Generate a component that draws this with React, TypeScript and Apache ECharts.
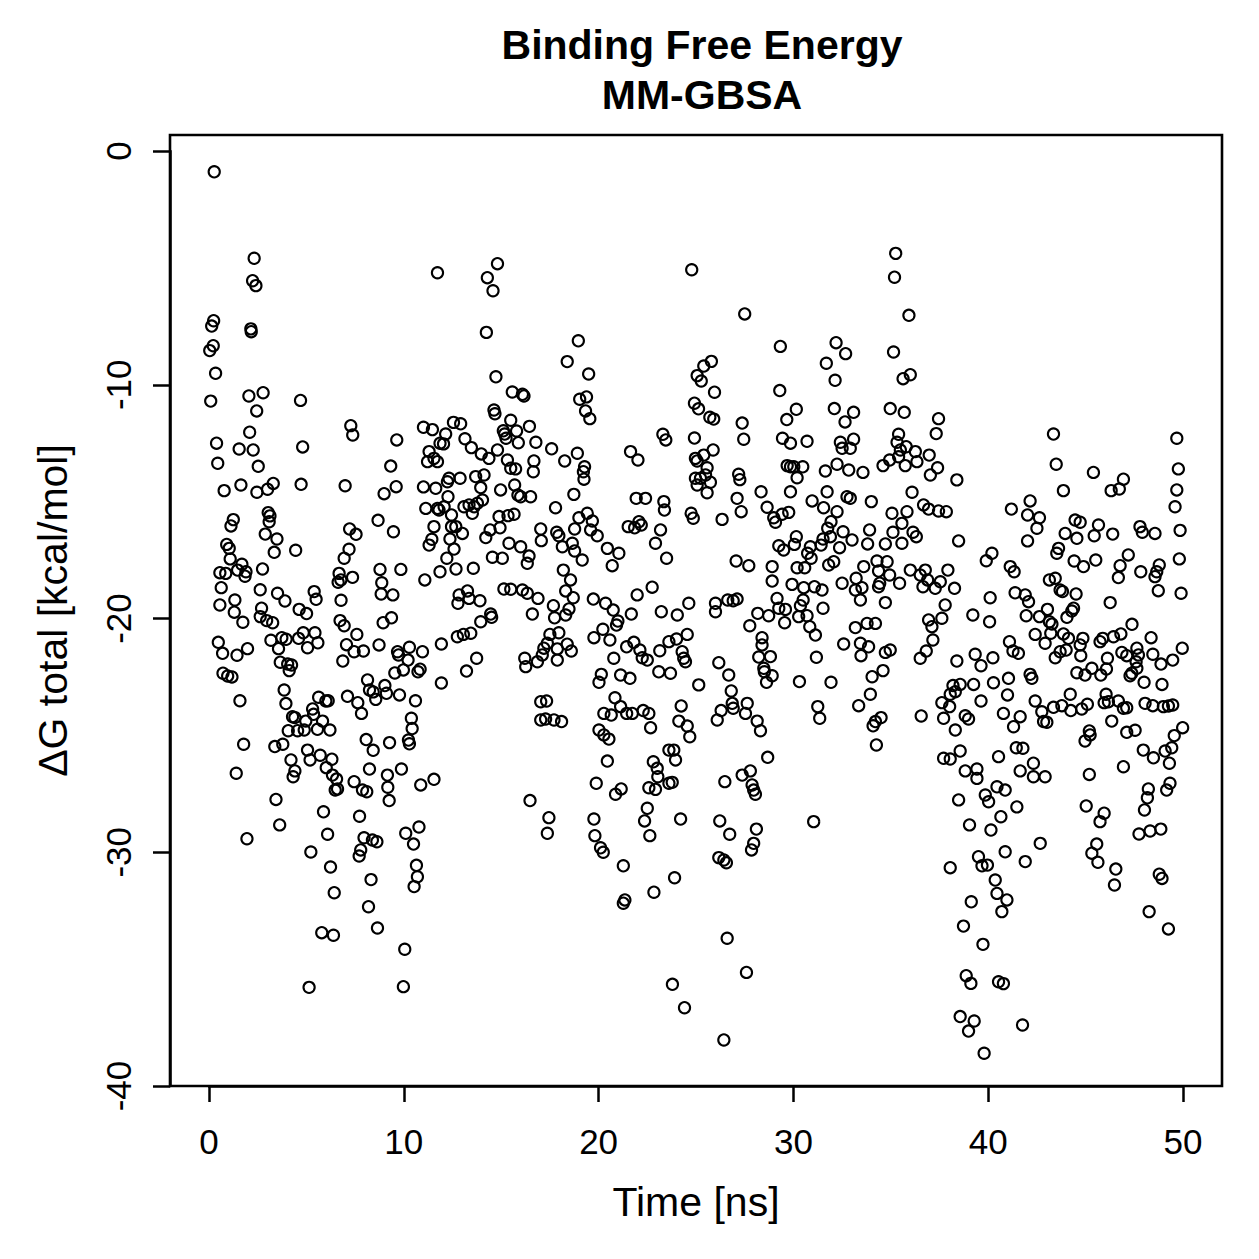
import React, { useEffect, useRef } from "react";
import * as echarts from "echarts";

// ---- Data: [time (ns), ΔG total (kcal/mol)] ----
const frames0to10: [number, number][] = [
  [0.27,-0.89],[2.32,-4.59],[2.24,-5.55],[2.41,-5.76],[0.24,-7.26],[0.14,-7.49],[2.15,-7.61],[2.17,-7.73],[0.22,-8.33],[0.04,-8.54],
  [0.34,-9.51],[0.09,-10.70],[2.05,-10.48],[2.78,-10.34],[2.45,-11.12],[4.70,-10.67],[2.09,-12.03],[0.39,-12.50],[1.55,-12.75],[2.27,-12.79],
  [4.81,-12.66],[7.28,-11.75],[7.38,-12.15],[9.64,-12.36],
  [0.45,-13.36],[2.53,-13.49],[0.78,-14.53],[1.64,-14.29],[2.46,-14.60],[3.01,-14.47],[3.30,-14.22],[4.73,-14.26],[6.99,-14.32],[9.33,-13.48],
  [8.99,-14.66],[9.61,-14.36],[8.68,-15.80],[9.47,-16.29],[7.22,-16.17],[7.55,-16.40],[7.19,-17.04],[6.94,-17.42],[1.13,-16.04],[1.25,-15.77],
  [3.04,-15.47],[3.13,-15.61],[3.09,-15.86],[2.89,-16.39],[3.49,-16.60],[3.35,-17.17],[4.45,-17.08],[0.91,-16.83],[1.04,-17.00],[1.09,-17.45],
  [0.56,-18.04],[0.86,-18.07],[1.47,-17.93],[1.69,-17.68],[1.90,-18.00],[1.85,-18.19],[2.75,-17.88],[0.63,-18.68],[0.56,-19.42],[1.33,-19.21],
  [1.30,-19.73],[1.74,-20.16],[2.63,-18.77],[2.70,-19.56],[2.63,-19.92],[2.96,-20.09],[3.27,-20.18],[3.52,-18.92],[3.90,-19.25],[4.63,-19.61],
  [5.01,-19.79],[5.40,-18.85],[5.50,-19.18],[6.78,-19.22],[6.68,-18.07],[6.77,-18.35],[6.63,-18.45],[7.37,-18.24],[8.78,-17.90],[9.85,-17.90],
  [8.87,-18.47],[8.84,-18.95],[9.44,-18.99],[6.73,-20.09],[6.94,-20.31],[7.59,-20.68],[7.06,-21.12],[7.45,-21.42],[7.93,-21.39],[6.87,-21.82],
  [8.94,-20.18],[9.37,-19.97],[8.73,-21.13],[9.68,-21.42],[9.73,-21.56],[9.54,-22.33],[9.98,-22.20],[0.48,-21.02],[0.70,-21.49],[1.44,-21.57],
  [1.98,-21.29],[3.18,-20.93],[3.74,-20.82],[3.96,-20.89],[3.57,-21.29],[4.60,-20.85],[4.84,-20.61],[5.44,-20.61],[5.59,-21.04],[5.06,-21.25],
  [3.66,-21.87],[4.04,-21.95],[4.24,-21.99],[4.12,-22.23],[0.72,-22.34],[0.96,-22.46],[1.18,-22.50],[1.59,-23.52],[3.86,-23.06],[3.95,-23.64],
  [4.29,-24.20],[4.41,-24.24],[4.07,-24.80],[4.55,-24.80],[4.97,-24.39],[4.89,-24.77],[5.32,-23.87],[5.37,-24.10],[5.63,-23.37],[6.00,-23.53],
  [6.12,-23.52],[5.83,-24.39],[5.57,-24.74],[6.21,-24.77],[7.11,-23.33],[7.64,-23.60],[7.83,-24.06],[8.14,-22.63],[8.24,-23.06],[8.43,-23.14],
  [8.56,-23.46],[9.03,-22.87],[9.11,-23.20],[9.78,-23.27],[1.78,-25.38],[3.38,-25.48],[3.79,-25.38],[4.21,-26.05],[5.06,-25.63],[5.19,-26.05],
  [5.71,-25.85],[6.31,-26.02],[6.02,-26.38],[8.07,-25.18],[8.43,-25.64],[9.27,-25.31],[8.24,-26.44],[9.88,-26.44],[1.40,-26.62],[4.41,-26.52],
  [9.16,-26.70],[4.32,-26.77],[6.34,-26.70],[6.55,-26.87],[6.48,-27.34],[6.60,-27.29],[7.45,-26.98],[7.88,-27.34],[8.10,-27.41],[9.18,-27.22],
  [9.25,-27.79],[3.44,-27.74],[5.88,-28.27],[7.73,-28.46],[3.63,-28.83],[1.95,-29.42],[6.09,-29.23],[7.96,-29.38],[8.39,-29.48],[8.62,-29.55],
  [7.79,-29.90],[7.71,-30.16],[5.23,-29.99],[6.24,-30.63],[6.43,-31.73],[8.32,-31.17],[8.19,-32.33],[8.65,-33.24],[5.79,-33.44],[6.39,-33.55],
  [5.14,-35.78],[9.98,-35.75],
];

const frames10to20: [number, number][] = [
  [11.73,-5.21],[11.01,-11.82],[11.47,-11.92],[11.30,-12.86],[11.86,-12.50],[14.81,-4.82],[14.29,-5.42],[14.58,-5.98],[14.24,-7.76],[18.96,-8.12],
  [18.39,-9.01],[19.49,-9.54],[14.73,-9.66],[15.57,-10.31],[16.09,-10.41],[16.17,-10.48],[19.03,-10.62],[19.38,-10.52],[19.33,-11.12],[19.55,-11.45],
  [14.63,-11.08],[14.68,-11.24],[15.49,-11.52],[12.55,-11.61],[12.92,-11.67],[12.15,-12.11],[12.04,-12.53],[13.14,-12.31],[13.47,-12.69],[15.11,-11.97],
  [15.18,-12.11],[15.25,-12.29],[15.79,-11.98],[16.45,-11.78],[15.88,-12.48],[16.78,-12.46],[17.59,-12.74],[14.81,-12.79],[13.98,-12.96],[18.91,-12.93],
  [11.01,-14.37],[11.64,-14.43],[11.22,-13.29],[11.55,-13.15],[11.13,-15.29],[11.73,-15.29],[11.44,-16.61],[11.55,-16.07],[11.30,-16.86],[11.08,-18.35],
  [11.86,-18.00],[10.29,-21.23],[10.22,-21.78],[10.96,-21.42],[10.73,-22.28],[10.84,-22.17],[11.93,-21.09],[11.93,-22.76],[10.60,-23.52],[10.39,-24.27],
  [10.43,-24.71],[10.24,-25.20],[10.29,-25.36],[10.87,-27.12],[11.55,-26.88],[10.10,-29.19],[10.78,-28.92],[10.50,-29.65],[10.65,-30.56],[10.70,-31.05],
  [10.53,-31.47],[10.05,-34.15],
  [11.73,-13.29],[14.37,-13.15],[15.32,-13.22],[15.49,-13.57],[15.74,-13.60],[16.68,-13.26],[16.65,-13.72],[18.26,-13.26],[19.28,-13.51],[19.22,-13.72],
  [19.25,-14.04],[18.73,-14.69],[17.79,-15.26],[12.24,-14.15],[12.32,-14.00],[12.89,-14.00],[12.27,-14.79],[11.81,-15.36],[12.07,-15.22],[12.45,-15.57],
  [12.45,-16.07],[12.67,-16.07],[13.01,-16.36],[12.37,-16.60],[12.58,-17.03],[12.21,-17.42],[12.68,-17.88],[13.57,-17.85],[13.09,-15.22],[13.35,-15.14],
  [13.61,-15.22],[13.52,-15.50],[13.78,-15.07],[14.04,-14.93],[13.69,-13.93],[14.12,-13.86],[13.95,-14.40],[14.97,-14.50],[15.69,-14.29],[15.86,-14.72],
  [16.00,-14.79],[16.51,-14.79],[14.89,-15.64],[15.35,-15.60],[15.66,-15.54],[14.94,-16.12],[14.21,-16.54],[14.43,-16.21],[15.40,-16.78],[16.00,-16.93],
  [16.43,-17.33],[16.34,-17.64],[14.55,-17.38],[15.06,-17.42],[17.03,-16.17],[17.06,-16.67],[17.85,-16.31],[17.96,-16.46],[18.14,-16.93],[18.77,-16.17],
  [18.99,-15.69],[19.42,-15.50],[19.68,-15.83],[19.59,-16.21],[19.93,-16.46],[18.65,-16.78],[18.77,-17.11],[19.16,-17.50],[18.19,-17.93],[18.56,-18.35],
  [18.31,-18.82],[18.70,-19.11],[17.68,-19.45],[17.74,-19.97],[18.31,-19.85],[18.48,-19.59],[15.14,-18.74],[15.49,-18.75],[16.09,-18.78],[16.34,-18.92],
  [16.89,-19.14],[16.60,-19.81],[12.84,-18.99],[13.27,-18.82],[13.35,-19.14],[12.78,-19.35],[13.91,-19.24],[14.46,-19.81],[14.51,-19.95],[13.95,-20.14],
  [13.44,-20.63],[13.06,-20.68],[12.75,-20.78],[13.74,-21.70],[13.22,-22.25],[19.73,-19.17],[19.76,-20.82],[17.50,-20.68],[17.96,-20.61],[17.37,-21.06],
  [17.19,-21.27],[17.11,-21.56],[17.88,-21.30],[18.39,-21.10],[18.60,-21.39],[17.88,-21.78],[16.21,-21.70],[16.26,-22.06],[16.86,-21.85],[17.03,-23.56],
  [17.33,-23.53],[17.03,-24.34],[17.28,-24.30],[17.71,-24.34],[18.10,-24.41],[16.48,-27.79],[17.45,-28.52],[17.37,-29.19],[19.88,-27.05],[19.76,-28.58],
  [19.81,-29.29],
];

const frames20to30: [number, number][] = [
  [21.64,-12.86],[24.78,-5.08],[25.40,-9.20],[25.79,-9.00],[25.06,-9.61],[25.27,-9.84],[24.92,-10.79],[25.13,-11.03],[24.92,-12.28],[23.30,-12.12],
  [23.45,-12.36],[27.50,-6.97],[29.33,-8.36],[25.95,-10.32],[29.30,-10.25],[25.71,-11.39],[25.91,-11.47],[27.37,-11.64],[27.45,-12.33],[29.44,-12.29],
  [29.85,-12.50],[25.40,-13.01],[25.88,-12.79],[29.66,-11.49],
  [22.02,-13.22],[24.97,-13.15],[24.97,-14.00],[25.06,-14.29],[20.45,-17.00],[21.04,-17.21],[20.70,-17.74],[21.93,-14.86],[22.41,-14.86],[23.35,-15.00],
  [23.38,-15.36],[21.52,-16.07],[21.85,-16.12],[22.07,-15.86],[22.19,-16.00],[23.18,-16.21],[22.92,-16.78],[23.49,-17.42],[24.75,-15.50],[24.86,-15.71],
  [20.36,-19.35],[20.75,-19.64],[20.99,-20.11],[20.92,-20.28],[20.22,-20.46],[20.58,-20.92],[21.68,-19.81],[21.98,-18.99],[22.75,-18.66],[23.22,-19.71],
  [24.04,-19.85],[24.63,-19.35],[20.78,-21.70],[21.44,-21.21],[21.81,-21.02],[22.12,-21.35],[22.24,-21.68],[22.50,-21.78],[23.14,-21.38],[23.61,-20.99],
  [24.00,-20.88],[24.29,-21.42],[24.37,-21.70],[24.46,-21.85],[24.55,-20.68],[25.14,-22.84],[23.09,-22.28],[23.69,-22.34],[20.14,-22.39],[20.02,-22.73],
  [21.13,-22.42],[21.61,-22.56],[20.84,-23.39],[21.13,-23.77],[20.27,-24.06],[20.65,-24.13],[21.44,-24.06],[21.73,-24.06],[22.29,-23.94],[22.58,-24.06],
  [22.67,-24.67],[24.24,-23.74],[24.12,-24.39],[24.55,-24.60],[24.68,-25.06],[20.02,-24.77],[20.27,-24.98],[20.53,-25.16],[23.61,-25.63],[23.86,-25.63],
  [23.95,-26.05],[22.81,-26.13],[23.01,-26.41],[20.45,-26.10],
  [20.87,-27.52],[21.16,-27.29],[20.10,-29.81],[20.24,-30.00],[21.27,-30.58],[21.35,-32.04],[21.27,-32.18],[22.50,-28.12],[22.36,-28.66],[22.63,-29.29],
  [22.58,-27.24],[22.92,-27.31],[23.04,-26.77],[23.61,-27.05],[23.78,-27.01],[24.21,-28.58],[23.90,-31.09],[22.84,-31.71],[23.79,-35.65],[24.41,-36.65],
  [26.48,-26.98],[27.37,-26.70],[27.79,-26.52],[27.88,-27.12],[27.96,-27.34],[28.05,-27.52],[26.22,-28.66],[26.73,-29.23],[28.10,-29.01],[27.96,-29.62],
  [27.85,-29.90],[26.17,-30.23],[26.43,-30.33],[26.56,-30.45],[26.60,-33.68],[27.59,-35.14],[26.43,-38.03],
  [25.06,-13.26],[25.57,-13.55],[25.49,-13.86],[25.23,-14.00],[25.74,-14.17],[25.57,-14.62],[26.34,-15.76],[27.19,-13.83],[27.25,-14.06],[27.11,-14.86],
  [27.32,-15.43],[28.34,-14.58],[28.65,-15.24],[28.99,-15.69],[29.08,-15.88],[29.42,-15.54],[29.76,-15.46],[29.68,-13.46],[29.85,-13.51],[29.85,-14.58],
  [29.50,-17.07],[29.25,-16.89],[28.91,-17.78],[28.91,-18.40],[27.71,-17.74],[27.06,-17.54],[26.00,-19.35],[26.00,-19.71],[26.63,-19.21],[26.91,-19.24],
  [27.11,-19.17],[28.17,-19.78],[28.73,-19.88],[27.76,-20.31],[29.16,-19.14],[29.25,-19.56],[29.59,-19.61],[29.55,-20.18],[29.93,-18.54],[28.39,-20.82],
  [28.39,-21.13],[28.22,-21.65],[28.82,-21.63],[28.48,-22.13],[28.51,-22.28],[28.91,-22.45],[28.62,-22.73],[26.17,-21.89],[26.68,-22.42],[26.81,-23.10],
  [26.86,-23.63],[26.91,-23.84],[26.29,-23.94],[26.09,-24.34],[27.63,-23.63],[27.54,-24.06],[28.14,-24.39],[28.31,-24.80],[28.68,-25.94],
];

const frames30to40: [number, number][] = [
  [35.25,-4.38],[35.19,-5.40],[35.93,-7.03],[32.19,-8.20],[32.68,-8.67],[31.69,-9.08],[32.14,-9.81],[35.14,-8.60],[35.63,-9.74],[36.00,-9.57],
  [30.15,-11.05],[32.10,-11.02],[33.09,-11.18],[32.65,-11.59],[34.97,-11.02],[35.69,-11.18],[37.45,-11.45],[37.33,-12.09],[30.70,-12.42],[32.41,-12.46],
  [33.09,-12.33],[32.92,-12.72],[32.50,-12.72],[35.40,-12.12],[35.32,-12.46],[35.79,-12.65],[35.49,-12.79],[36.26,-12.86],[36.97,-13.01],
  [30.02,-13.51],[30.48,-13.51],[30.19,-13.98],[30.96,-14.97],[31.55,-15.26],[31.64,-13.69],[32.24,-13.40],[32.84,-13.65],[33.57,-13.75],[31.73,-14.58],
  [32.24,-15.43],[32.75,-14.79],[32.92,-14.86],[34.00,-15.00],[34.60,-13.46],[34.94,-13.22],[35.40,-13.08],[35.74,-13.46],[36.34,-13.29],[37.03,-13.86],
  [37.40,-13.55],[36.09,-14.60],[35.06,-15.50],[35.83,-15.43],[36.68,-15.14],[36.94,-15.32],[37.45,-15.40],[37.85,-15.43],[38.39,-14.07],[35.57,-15.93],
  [35.11,-16.31],[36.14,-16.31],[36.31,-16.50],[35.57,-16.78],[34.72,-16.81],[33.91,-16.21],[33.81,-16.81],[33.01,-16.64],[32.55,-16.29],[31.93,-15.86],
  [31.76,-16.14],[31.90,-16.50],[31.52,-16.60],[31.42,-16.86],[32.37,-16.97],[32.07,-17.57],[31.81,-17.71],[30.87,-16.93],[30.73,-17.21],[30.91,-17.42],
  [30.58,-17.83],[30.19,-17.83],[30.15,-16.50],[30.05,-16.83],[30.53,-18.68],[31.08,-18.64],[31.47,-18.78],[30.50,-19.21],[30.36,-19.45],[30.27,-19.92],
  [30.70,-19.88],[30.84,-20.35],[31.13,-20.71],[31.52,-19.56],[32.50,-18.49],[33.22,-18.28],[33.18,-18.78],[33.52,-18.68],[33.44,-19.21],[33.61,-17.78],
  [34.29,-17.54],[34.81,-17.57],[34.37,-17.97],[34.94,-18.14],[34.43,-18.49],[34.37,-18.64],[35.45,-18.49],[34.72,-19.32],[36.00,-17.93],[36.51,-18.14],
  [36.77,-17.93],[36.89,-18.35],[36.65,-18.64],[37.28,-18.71],[37.54,-18.43],[37.93,-17.93],[38.27,-18.71],[37.79,-19.42],[37.62,-19.99],[36.94,-20.06],
  [37.11,-20.35],[37.16,-20.92],[36.82,-21.39],[36.51,-21.70],[38.39,-21.82],[33.18,-20.39],[33.78,-20.21],[34.21,-20.21],[32.58,-21.09],[33.44,-21.06],
  [33.86,-21.21],[33.47,-21.59],[34.72,-21.45],[34.97,-21.35],[31.18,-21.66],[30.31,-22.70],[31.93,-22.73],[34.04,-22.49],[34.60,-22.23],[33.95,-23.24],
  [33.35,-23.73],[31.25,-23.77],[31.35,-24.27],[34.21,-24.41],[34.50,-24.24],[34.09,-24.59],[34.26,-25.41],[36.56,-24.17],[38.19,-22.87],[38.31,-23.13],
  [38.05,-23.24],[37.62,-23.60],[38.02,-23.77],[37.71,-24.27],[38.31,-24.77],[37.71,-25.98],[38.05,-26.01],
  [31.04,-28.69],[38.05,-30.66],[38.48,-27.76],[38.56,-37.03],[38.82,-26.52],[39.42,-26.44],[39.42,-26.84],[39.85,-27.55],[39.04,-28.83],[39.50,-30.19],
  [39.68,-30.58],[39.96,-30.55],[39.13,-32.12],[38.73,-33.16],[39.73,-33.94],[38.87,-35.28],[39.11,-35.61],[39.28,-37.22],[38.99,-37.65],[39.79,-38.60],
  [38.48,-16.68],[39.90,-17.53],[39.21,-19.85],[39.33,-21.53],[39.63,-22.02],[39.25,-22.82],[38.56,-22.82],[39.63,-23.53],[38.82,-24.16],[38.99,-24.30],
  [38.56,-25.67],
];

const frames40to50: [number, number][] = [
  [43.35,-12.11],[49.68,-12.29],
  [43.49,-13.40],[45.40,-13.75],[46.94,-14.04],[46.31,-14.53],[46.73,-14.46],[43.86,-14.53],[49.76,-13.60],[49.68,-14.50],[49.59,-15.22],[49.85,-16.23],
  [42.15,-14.97],[41.19,-15.32],[42.02,-15.57],[42.63,-15.69],[42.50,-16.14],[42.02,-16.68],[44.46,-15.79],[44.72,-15.88],[45.66,-16.00],[45.44,-16.46],
  [46.39,-16.39],[43.95,-16.36],[44.55,-16.57],[43.61,-17.00],[43.52,-17.21],[47.79,-16.07],[47.91,-16.31],[48.56,-16.36],[44.41,-17.54],[44.89,-17.78],
  [45.52,-17.50],[47.19,-17.28],[46.77,-17.74],[46.68,-18.25],[47.83,-18.00],[48.78,-17.71],[48.65,-18.00],[48.56,-18.21],[49.81,-17.45],[48.73,-18.81],
  [49.90,-18.92],[40.19,-17.21],[41.13,-17.78],[41.33,-18.00],[40.10,-19.11],[43.14,-18.35],[43.44,-18.28],[43.69,-18.78],[43.81,-18.85],[44.51,-18.95],
  [41.38,-18.90],[41.90,-18.99],[42.07,-19.28],[41.95,-19.88],[42.63,-19.92],[43.04,-19.61],[43.14,-20.14],[43.27,-20.24],[44.38,-19.56],[44.29,-19.68],
  [44.04,-19.95],[46.26,-19.32],[40.07,-20.14],[42.41,-20.68],[42.92,-21.06],[43.21,-20.63],[43.86,-20.66],[44.12,-20.85],[44.86,-20.85],[44.72,-21.13],
  [44.75,-21.59],[43.44,-21.68],[43.69,-21.42],[44.00,-21.35],[41.09,-20.99],[41.27,-21.39],[41.55,-21.49],[45.74,-20.99],[45.88,-20.85],[46.43,-20.78],
  [46.81,-20.66],[47.38,-20.25],[48.36,-20.82],[46.86,-21.45],[47.11,-21.59],[47.63,-21.27],[47.71,-21.56],[47.59,-21.85],[47.63,-22.13],[47.37,-22.34],
  [47.28,-22.45],[48.45,-21.53],[48.87,-21.95],[49.47,-21.78],[49.96,-21.27],[40.24,-21.68],[46.12,-21.70],[46.07,-22.16],[45.78,-22.42],[45.32,-22.13],
  [44.97,-22.42],[44.55,-22.32],[48.00,-22.73],[48.92,-22.82],[42.15,-22.39],[42.24,-22.56],[41.04,-22.56],[40.27,-22.75],[40.99,-23.27],[40.78,-24.06],
  [41.64,-24.20],[41.30,-24.63],[42.41,-23.53],[42.75,-23.99],[42.84,-24.41],[43.01,-24.44],[43.35,-23.80],[43.78,-23.73],[44.21,-23.24],[44.24,-23.94],
  [44.80,-23.87],[45.09,-23.67],[46.05,-23.24],[45.95,-23.60],[46.17,-23.56],[46.68,-23.53],[46.94,-23.84],[47.11,-23.82],[46.34,-24.39],[45.19,-24.81],
  [45.23,-24.98],[44.97,-25.24],[47.11,-24.87],[47.54,-24.78],[48.05,-23.63],[48.45,-23.73],[48.99,-23.77],[49.25,-23.74],[49.47,-23.70],[49.98,-24.67],
  [49.55,-25.01],[49.42,-25.53],[49.08,-25.67],[48.48,-25.96],[47.96,-25.63],[49.30,-26.19],[46.94,-26.34],[40.53,-25.91],[41.44,-25.53],[41.78,-25.55],
  [42.32,-26.19],
  [41.64,-26.52],[42.32,-26.77],[42.92,-26.77],[45.19,-26.67],[40.02,-27.84],[40.45,-27.20],[40.87,-27.34],[41.47,-28.06],[40.65,-28.48],[40.14,-29.05],
  [42.67,-29.62],[40.87,-29.98],[41.90,-30.40],[40.36,-31.19],[40.45,-31.76],[40.96,-32.04],[40.70,-32.54],[40.53,-35.54],[40.78,-35.62],[41.76,-37.39],
  [45.03,-28.02],[45.95,-28.33],[45.74,-28.69],[45.57,-29.65],[45.32,-30.04],[45.63,-30.43],[46.55,-30.72],[46.48,-31.40],[48.22,-27.29],[48.17,-27.67],
  [48.02,-28.19],[49.33,-27.05],[49.16,-27.34],[47.74,-29.22],[48.31,-29.09],[48.86,-29.01],[48.78,-30.94],[48.92,-31.12],[48.26,-32.54],[49.25,-33.28],
];

const xTickValues = [0, 10, 20, 30, 40, 50];
const yTickValues = [-40, -30, -20, -10, 0];

const titleText = "Binding Free Energy\nMM-GBSA";
const xLabel = "Time [ns]";
const yLabel = "ΔG total [kcal/mol]";

const FONT = "'Liberation Sans', Arial, Helvetica, sans-serif";

export default function App() {
  const ref = useRef<HTMLDivElement>(null);

  useEffect(() => {
    if (!ref.current) return;
    const chart = echarts.init(ref.current, undefined, { renderer: "svg" });
    const data = [
      ...frames0to10,
      ...frames10to20,
      ...frames20to30,
      ...frames30to40,
      ...frames40to50,
    ];
    const hiddenAxis = {
      axisLine: { show: false },
      axisTick: { show: false },
      axisLabel: { show: false },
      splitLine: { show: false },
    };
    const lineStyle = { color: "#000", width: 2.5 };
    const option: any = {
      animation: false,
      backgroundColor: "#ffffff",
      title: {
        text: titleText,
        left: 697,
        top: 15,
        textAlign: "center",
        textStyle: {
          fontFamily: FONT,
          fontWeight: "bold",
          fontSize: 41,
          lineHeight: 50,
          color: "#000",
        },
      },
      grid: [
        {
          left: 170,
          top: 135,
          width: 1052,
          height: 951,
          show: true,
          borderColor: "#000",
          borderWidth: 2.6,
          backgroundColor: "transparent",
        },
        { left: 209, top: 151, width: 974, height: 935 },
      ],
      xAxis: [
        {
          gridIndex: 0,
          type: "value",
          min: -2,
          max: 52,
          ...hiddenAxis,
          name: xLabel,
          nameLocation: "middle",
          nameGap: 95,
          nameTextStyle: { fontFamily: FONT, fontSize: 41, color: "#000" },
        },
        {
          gridIndex: 1,
          type: "value",
          position: "bottom",
          min: xTickValues[0],
          max: xTickValues[xTickValues.length - 1],
          interval: xTickValues[1] - xTickValues[0],
          axisLine: { show: true, onZero: false, lineStyle },
          axisTick: { show: true, inside: false, length: 16, lineStyle },
          axisLabel: {
            show: true,
            margin: 38,
            fontFamily: FONT,
            fontSize: 35,
            color: "#000",
          },
          splitLine: { show: false },
        },
      ],
      yAxis: [
        {
          gridIndex: 0,
          type: "value",
          min: -40,
          max: 0.684,
          ...hiddenAxis,
          name: yLabel,
          nameLocation: "middle",
          nameRotate: 90,
          nameGap: 97,
          nameTextStyle: { fontFamily: FONT, fontSize: 41, color: "#000" },
        },
        {
          gridIndex: 1,
          type: "value",
          position: "left",
          min: yTickValues[0],
          max: yTickValues[yTickValues.length - 1],
          interval: yTickValues[1] - yTickValues[0],
          offset: 39,
          axisLine: { show: true, onZero: false, lineStyle },
          axisTick: { show: true, inside: false, length: 17, lineStyle },
          axisLabel: {
            show: true,
            rotate: 90,
            margin: 34,
            fontFamily: FONT,
            fontSize: 35,
            color: "#000",
          },
          splitLine: { show: false },
        },
      ],
      series: [
        {
          type: "scatter",
          xAxisIndex: 0,
          yAxisIndex: 0,
          data,
          symbol: "circle",
          symbolSize: 11.2,
          silent: true,
          itemStyle: {
            color: "rgba(0,0,0,0)",
            borderColor: "#000",
            borderWidth: 2.1,
            opacity: 1,
          },
        },
      ],
    };
    chart.setOption(option);
    return () => chart.dispose();
  }, []);

  return (
    <div
      ref={ref}
      style={{
        position: "fixed",
        left: 0,
        top: 0,
        width: 1259,
        height: 1259,
        background: "#fff",
      }}
    />
  );
}
